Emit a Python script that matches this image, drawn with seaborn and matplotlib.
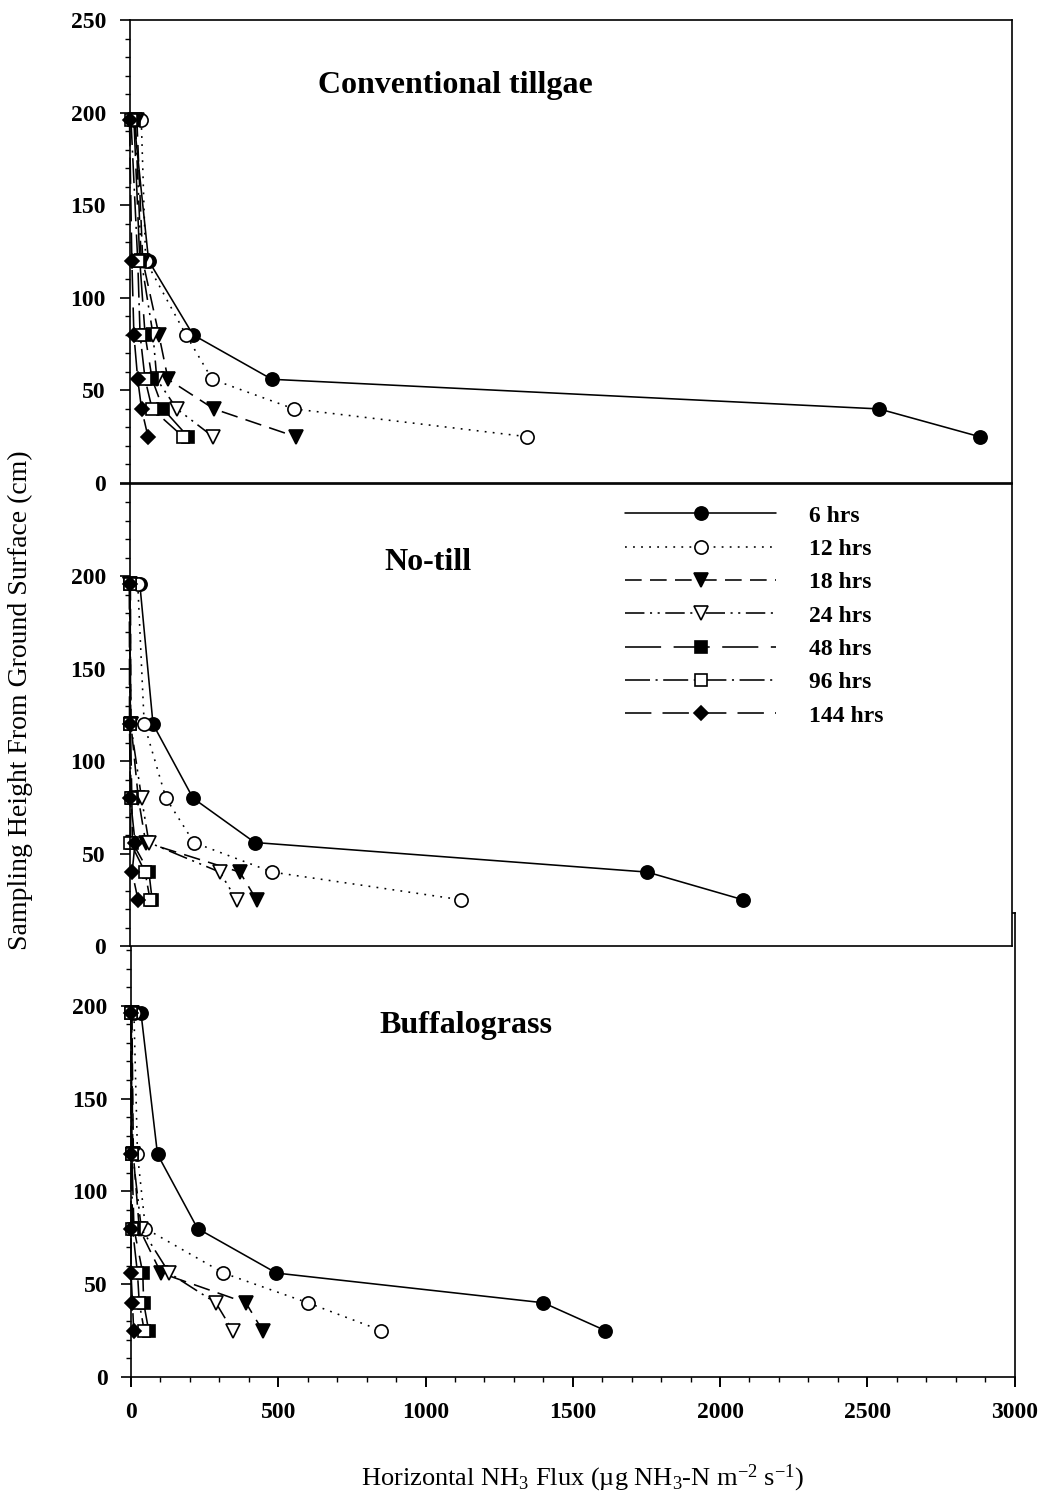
import numpy as np
import pandas as pd
import matplotlib
matplotlib.use("Agg")
import matplotlib.pyplot as plt
from matplotlib.ticker import MultipleLocator, FixedLocator
import seaborn as sns

# Sampling heights (cm), top to bottom
heights = [196, 120, 80, 56, 40, 25]

series_labels = ["6 hrs", "12 hrs", "18 hrs", "24 hrs", "48 hrs", "96 hrs", "144 hrs"]

# Horizontal NH3 flux per sampling time, conventional tillage
ct_6 = [15, 65, 216, 484, 2548, 2890]
ct_12 = [40, 55, 192, 281, 559, 1352]
ct_18 = [25, 45, 100, 131, 287, 565]
ct_24 = [20, 40, 80, 93, 161, 284]
ct_48 = [15, 35, 53, 77, 114, 199]
ct_96 = [5, 28, 36, 53, 77, 182]
ct_144 = [0, 8, 15, 28, 41, 63]

# No-till
nt_6 = [35, 80, 216, 426, 1760, 2086]
nt_12 = [28, 50, 124, 219, 485, 1128]
nt_18 = [3, 5, 30, 55, 375, 432]
nt_24 = [2, 4, 41, 66, 307, 364]
nt_48 = [1, 3, 8, 10, 66, 77]
nt_96 = [0, 2, 5, 3, 53, 70]
nt_144 = [0, 0, 3, 19, 9, 29]

# Buffalograss
bg_6 = [34, 90, 226, 494, 1400, 1611]
bg_12 = [10, 22, 49, 314, 600, 850]
bg_18 = [3, 8, 28, 102, 390, 447]
bg_24 = [2, 6, 35, 130, 288, 345]
bg_48 = [1, 3, 10, 40, 43, 60]
bg_96 = [0, 2, 5, 22, 28, 45]
bg_144 = [0, 0, 0, 0, 5, 9]

panels = [
    ("Conventional tillgae", [ct_6, ct_12, ct_18, ct_24, ct_48, ct_96, ct_144]),
    ("No-till", [nt_6, nt_12, nt_18, nt_24, nt_48, nt_96, nt_144]),
    ("Buffalograss", [bg_6, bg_12, bg_18, bg_24, bg_48, bg_96, bg_144]),
]

sns.set_theme(style="ticks")
plt.rcParams["font.family"] = ["Liberation Serif", "DejaVu Serif"]
plt.rcParams["mathtext.fontset"] = "custom"
plt.rcParams["mathtext.rm"] = "Liberation Serif"
plt.rcParams["mathtext.it"] = "Liberation Serif:italic"
plt.rcParams["mathtext.bf"] = "Liberation Serif:bold"
plt.rcParams["lines.scale_dashes"] = False
plt.rcParams["axes.edgecolor"] = "black"
plt.rcParams["text.color"] = "black"
plt.rcParams["axes.labelcolor"] = "black"
plt.rcParams["xtick.color"] = "black"
plt.rcParams["ytick.color"] = "black"

# marker, filled?, size, dash pattern
styles = [
    ("o", True, 9.5, "-"),
    ("o", False, 9.5, (0, (1.3, 4.5))),
    ("v", True, 9.5, (0, (12, 6))),
    ("v", False, 9.5, (0, (14, 4, 1.5, 4, 1.5, 4))),
    ("s", True, 8.0, (0, (26, 9))),
    ("s", False, 8.0, (0, (18, 4, 1.5, 4))),
    ("D", True, 7.0, (0, (19, 8))),
]

W, H = 1046, 1511
fig = plt.figure(figsize=(W / 100, H / 100), dpi=100)


def add_axes_px(l, t, r, b):
    return fig.add_axes([l / W, 1 - b / H, (r - l) / W, (b - t) / H])


ax_bot = add_axes_px(131, 913, 1014.5, 1377)
ax_mid = add_axes_px(129.5, 484, 1012, 946)
ax_top = add_axes_px(129.5, 20, 1012, 483)
ax_bot.set_zorder(1)
ax_mid.set_zorder(2)
ax_top.set_zorder(3)
axes = [ax_top, ax_mid, ax_bot]

lw = 1.15
tick_font = dict(family="Liberation Serif", weight="bold", size=17, color="black")

for ax, (title, series) in zip(axes, panels):
    ax.set_facecolor("white")
    for vals, (mk, filled, ms, ls), lab in zip(series, styles, series_labels):
        df = pd.DataFrame({"flux": vals, "height": heights})
        sns.lineplot(
            data=df, x="flux", y="height", orient="y", estimator=None,
            sort=False, ax=ax, legend=False,
            color="black", linewidth=lw, linestyle=ls, marker=mk,
            markersize=ms, markerfacecolor="black" if filled else "white",
            markeredgecolor="black", markeredgewidth=1.2, label=lab,
            clip_on=False,
        )
    ax.set_xlim(0, 3000)
    ax.set_ylim(0, 250)
    ax.set_xlabel("")
    ax.set_ylabel("")
    for sp in ax.spines.values():
        sp.set_visible(True)
        sp.set_linewidth(1.2)
        sp.set_color("black")
    ax.tick_params(axis="y", which="major", direction="out", length=7, width=1.2,
                   pad=10, colors="black")
    ax.tick_params(axis="y", which="minor", direction="out", length=3.6, width=1.0,
                   colors="black")
    ax.tick_params(axis="x", which="both", bottom=False, labelbottom=False)

ax_top.yaxis.set_major_locator(FixedLocator([0, 50, 100, 150, 200, 250]))
ax_top.yaxis.set_minor_locator(FixedLocator([v for v in range(10, 250, 10) if v % 50]))
ax_mid.yaxis.set_major_locator(FixedLocator([0, 50, 100, 150, 200, 250]))
ax_mid.yaxis.set_minor_locator(FixedLocator([v for v in range(10, 250, 10) if v % 50]))
ax_bot.yaxis.set_major_locator(FixedLocator([0, 50, 100, 150, 200]))
ax_bot.yaxis.set_minor_locator(FixedLocator([v for v in range(10, 240, 10) if v % 50]))
ax_bot.spines["left"].set_bounds(0, 232)

for ax in axes:
    labels = []
    for t in ax.get_yticks():
        labels.append("250" if (t == 250 and ax is ax_top) else ("" if t == 250 else f"{int(t)}"))
    ax.set_yticks(ax.get_yticks())
    ax.set_yticklabels(labels, fontdict=tick_font)

ax_bot.tick_params(axis="x", which="both", bottom=True, labelbottom=True)
ax_bot.xaxis.set_major_locator(MultipleLocator(500))
ax_bot.xaxis.set_minor_locator(MultipleLocator(100))
ax_bot.tick_params(axis="x", which="major", direction="out", length=7, width=1.4,
                   pad=11, colors="black")
ax_bot.tick_params(axis="x", which="minor", direction="out", length=3.6, width=1.0,
                   colors="black")
ax_bot.set_xticks([0, 500, 1000, 1500, 2000, 2500, 3000])
ax_bot.set_xticklabels(["0", "500", "1000", "1500", "2000", "2500", "3000"], fontdict=tick_font)

# Panel titles
title_pos = [(455, 85), (428, 563), (466, 1025)]
for (title, _), (px, py) in zip(panels, title_pos):
    fig.text(px / W, 1 - py / H, title, ha="center", va="center", color="black",
             fontsize=23, fontweight="bold", family="Liberation Serif")

# Legend in the middle panel
handles = ax_mid.get_lines()[:7]
leg = ax_mid.legend(
    handles=handles, labels=series_labels, loc="upper left",
    bbox_to_anchor=(625 / W, 1 - 505 / H), bbox_transform=fig.transFigure,
    frameon=False, borderpad=0, borderaxespad=0, handlelength=6.4,
    handletextpad=1.4, labelspacing=0.5,
    prop=dict(family="Liberation Serif", weight="bold", size=17),
)
for txt in leg.get_texts():
    txt.set_color("black")

fig.text(20 / W, 1 - 700 / H, "Sampling Height From Ground Surface (cm)",
         rotation=90, ha="center", va="center", fontsize=20, color="black",
         family="Liberation Serif")
fig.text(583 / W, 1 - 1478 / H,
         "Horizontal NH$_3$ Flux (µg NH$_3$-N m$^{-2}$ s$^{-1}$)",
         ha="center", va="center", fontsize=19, color="black",
         family="Liberation Serif")

fig.savefig("out.png", dpi=100, facecolor="white")
